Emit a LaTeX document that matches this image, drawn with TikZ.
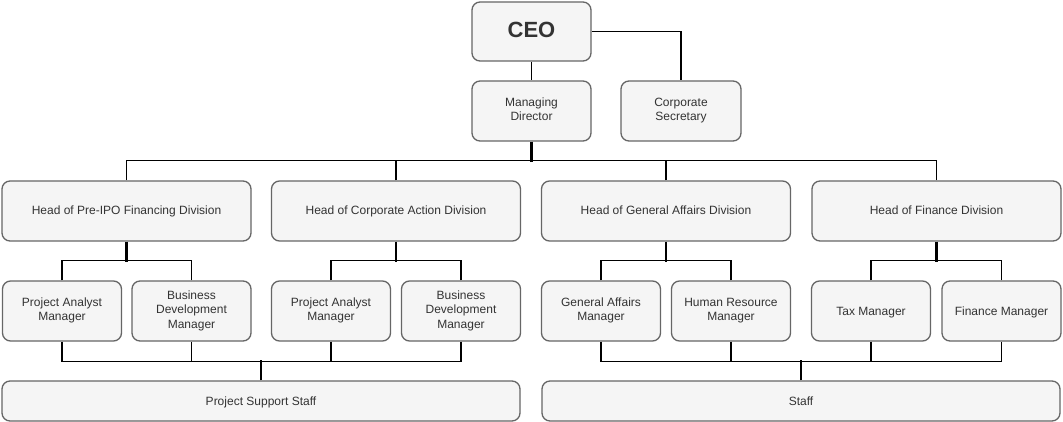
\documentclass[tikz,border=0pt]{standalone}
\usepackage{fontspec}
\setmainfont{Liberation Sans}
\definecolor{boxfill}{HTML}{F5F5F5}
\definecolor{boxline}{HTML}{666666}
\definecolor{txt}{HTML}{333333}
\newcommand{\bxstrut}{\rule[-3.2pt]{0pt}{14.4pt}}
\begin{document}
\begin{tikzpicture}[x=1pt,y=-1pt,
  box/.style={draw=boxline,fill=boxfill,line width=1.3pt,rounded corners=8pt,
    text=txt,font=\fontsize{12}{14.4}\selectfont,align=center,inner sep=2pt,
    execute at begin node=\bxstrut, execute at end node=\bxstrut},
  mgr/.style={box,minimum width=119pt,minimum height=60pt},
  div/.style={box,minimum width=249pt,minimum height=60pt},
  bot/.style={box,minimum width=518pt,minimum height=40pt},
  conn/.style={draw=black,line width=1.4pt},
  stem/.style={draw=black,line width=2.6pt}]
\useasboundingbox (0,0) rectangle (1063,422);
% top
\node[box,minimum width=119pt,minimum height=59pt,font=\fontsize{22}{24}\selectfont\bfseries,
  execute at begin node={},execute at end node={}] (ceo) at (531.5,31.5) {CEO};
\node[mgr] (md) at (531.5,111) {Managing\\Director};
\node[mgr,minimum width=120pt] (cs) at (681,111) {Corporate\\Secretary};
% divisions
\node[div] (d1) at (126.5,211) {Head of Pre-IPO Financing Division};
\node[div] (d2) at (396,211) {Head of Corporate Action Division};
\node[div] (d3) at (666,211) {Head of General Affairs Division};
\node[div] (d4) at (936.5,211) {Head of Finance Division};
% managers
\node[mgr] (m1) at (62,311) {Project Analyst\\Manager};
\node[mgr] (m2) at (191.5,311) {Business\\Development\\Manager};
\node[mgr] (m3) at (331,311) {Project Analyst\\Manager};
\node[mgr] (m4) at (461,311) {Business\\Development\\Manager};
\node[mgr] (m5) at (601,311) {General Affairs\\Manager};
\node[mgr] (m6) at (731,311) {Human Resource\\Manager};
\node[mgr] (m7) at (871,311) {Tax Manager};
\node[mgr] (m8) at (1001.5,311) {Finance Manager};
% bottom
\node[bot] (pss) at (261,401) {Project Support Staff};
\node[bot] (st) at (801,401) {Staff};
% connectors
\draw[conn] (ceo) -- (md);
\draw[conn] (ceo.east) -| (cs.north);
\foreach \d in {d1,d2,d3,d4}
  \draw[conn] (\d.north) -- ++(0,-20) -| (md.south);
\draw[stem] (md.south) -- ++(0,20);
\foreach \m/\d in {m1/d1,m2/d1,m3/d2,m4/d2,m5/d3,m6/d3,m7/d4,m8/d4}
  \draw[conn] (\m.north) -- ++(0,-20) -| (\d.south);
\foreach \d in {d1,d2,d3,d4}
  \draw[stem] (\d.south) -- ++(0,20);
\foreach \m in {m1,m2,m3,m4}
  \draw[conn] (\m.south) -- ++(0,20) -| (pss.north);
\foreach \m in {m5,m6,m7,m8}
  \draw[conn] (\m.south) -- ++(0,20) -| (st.north);
\draw[stem] (pss.north) -- ++(0,-20);
\draw[stem] (st.north) -- ++(0,-20);
\end{tikzpicture}
\end{document}
